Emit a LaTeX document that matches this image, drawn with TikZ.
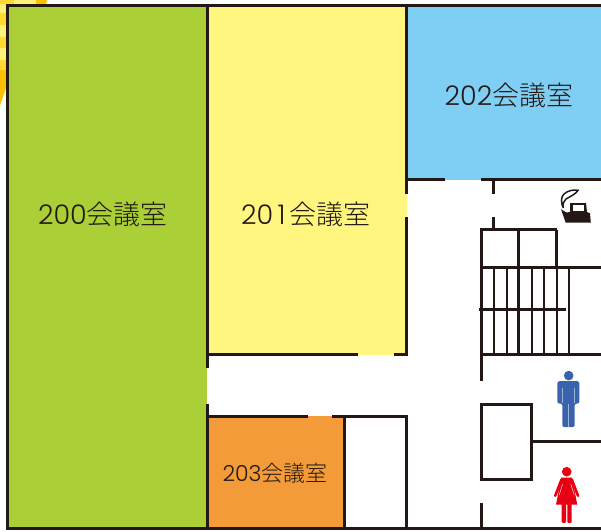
\documentclass[tikz,border=0pt]{standalone}
\usepackage{fontspec}
\setmainfont{Noto Sans CJK JP Light}
\newfontfamily\digitfont{Poppins Light}
\definecolor{wallc}{HTML}{231815}
\definecolor{greenc}{HTML}{AACF37}
\definecolor{yellowc}{HTML}{FFF67F}
\definecolor{bluec}{HTML}{7FCEF4}
\definecolor{orangec}{HTML}{F39B38}
\definecolor{manc}{HTML}{3A63AE}
\definecolor{manl}{HTML}{9DB3D8}
\definecolor{womanc}{HTML}{E60012}
\definecolor{paleY}{HTML}{FFF07A}
\definecolor{goldY}{HTML}{FFD92F}
\definecolor{ambY}{HTML}{FDC000}
\tikzset{
  wall/.style={draw=wallc,line width=3.5pt},
  stair/.style={draw=wallc,line width=2.4pt},
  roomlabel/.style={text=wallc,font=\fontsize{27}{27}\selectfont,inner sep=0pt},
  smalllabel/.style={text=wallc,font=\fontsize{22}{22}\selectfont,inner sep=0pt},
}
\newcommand{\roomtext}[1]{{\digitfont #1}会議室}
\newcommand{\wideone}{\makebox[0.62em]{1}}
\begin{document}
\begin{tikzpicture}[x=1pt,y=-1pt]
\useasboundingbox (0,0) rectangle (601,531);
\fill[white] (0,0) rectangle (601,531);
% sunburst remnant
\fill[paleY] (0,0) -- (36,0) -- (36,4) -- (6,4) -- (6,88) -- (0,105) -- cycle;
\fill[goldY] (0,13) rectangle (6,25);
\fill[goldY] (0,37) rectangle (6,48);
\fill[goldY] (0,60) rectangle (6,70);
\fill[ambY] (0,70) -- (6,70) -- (6,88) -- (0,105) -- cycle;
\fill[goldY] (0,0) rectangle (14,3.5);
\fill[ambY] (36,0) -- (47,0) -- (46,4) -- (36,4) -- cycle;
% rooms
\fill[greenc] (7.5,5.5) rectangle (207,528);
\fill[yellowc] (207,5.5) rectangle (406.5,354.5);
\fill[bluec] (406.5,5.5) rectangle (601,180);
\fill[orangec] (207.5,416) rectangle (344.5,528);
% corridor
\fill[white] (207,355.5) rectangle (406,415);
% outer walls
\coordinate (tl) at (7.5,5.5);
\coordinate (tr) at (601,5.5);
\coordinate (bl) at (7.5,528.5);
\coordinate (br) at (601,528.5);
\draw[wall,line cap=rect] (tr) -- (tl) -- (bl) -- (br);
% inner walls
\draw[wall] (207.5,5.5) -- (207.5,368);
\draw[wall] (207.5,404) -- (207.5,528.5);
\draw[wall] (206,354.3) -- (358,354.3);
\draw[wall] (394,354.3) -- (408,354.3);
\draw[wall] (406.5,5.5) -- (406.5,194);
\draw[wall] (406.5,217) -- (406.5,355.5);
\draw[wall] (406,179.5) -- (445,179.5);
\draw[wall] (481,179.5) -- (601,179.5);
\draw[wall] (493.5,179.5) -- (493.5,194);
\draw[wall] (493.5,217) -- (493.5,230);
\draw[wall] (206,416.3) -- (308,416.3);
\draw[wall] (332,416.3) -- (408,416.3);
\draw[wall] (344.7,416.3) -- (344.7,528.5);
\draw[wall] (406.5,415) -- (406.5,528.5);
% stair block
\draw[wall] (480,229.7) -- (557,229.7);
\draw[wall] (481.5,228.5) -- (481.5,380.5);
\draw[wall] (518.3,229.7) -- (518.3,267.3);
\draw[wall] (556.3,229.7) -- (556.3,267.3);
\draw[wall] (480,267.3) -- (601,267.3);
\draw[wall] (480,354.3) -- (601,354.3);
\foreach \sx in {494,506.7,518.3,531.7,544,556.7,569}
  \draw[stair] (\sx,267.3) -- (\sx,354.3);
\draw[wall] (479,309.7) -- (566,309.7);
% lower box
\draw[wall,line cap=rect] (481.5,404.3) rectangle (531.5,479.3);
\draw[wall] (531.5,441.3) -- (601,441.3);
\draw[wall] (481.5,503) -- (481.5,528.5);
% smoking icon
\fill[wallc] (561,209.3) -- (566.5,212.5) -- (570,212) -- (570,203) -- (586,203) -- (587,212) -- (590,213.3) -- (590.8,222.7) -- (565.7,222.7) -- cycle;
\fill[white] (572.8,205) rectangle (584.3,210.8);
\draw[wallc,line width=1.5pt] (563.3,208) .. controls (561,203) and (560.5,197) .. (564,194) .. controls (568,190.5) and (573,189.5) .. (578,190.3) .. controls (576,194) and (570,196.5) .. (566,199) .. controls (563.5,201) and (562.5,204) .. (563.3,208);
% man icon
\fill[manc] (568.7,375.6) circle (4.8);
\fill[manc,rounded corners=2pt] (557.3,403.5) -- (557.3,385) .. controls (557.3,382) and (559.5,381) .. (562,381) -- (575,381) .. controls (577.5,381) and (579.3,382) .. (579.3,385) -- (579.3,403.5) -- (574.7,403.5) -- (574.7,427) -- (562.3,427) -- (562.3,403.5) -- cycle;
\draw[manl,line width=0.6pt] (568.5,404) -- (568.5,427);
\draw[manl,line width=0.5pt] (562.3,388) -- (562.3,403);
\draw[manl,line width=0.5pt] (574.7,388) -- (574.7,403);
% woman icon
\fill[womanc] (566.7,471.7) circle (4.8);
\fill[womanc] (561.3,477.5) -- (572,477.5) -- (577.3,504.7) -- (556,504.7) -- cycle;
\draw[womanc,line width=2.6pt,line cap=round] (561.5,479.5) -- (555.2,495.8);
\draw[womanc,line width=2.6pt,line cap=round] (571.8,479.5) -- (578,495.8);
\draw[white,line width=0.4pt] (562.6,484) -- (559.2,495);
\draw[white,line width=0.4pt] (570.8,484) -- (574.2,495);
\fill[womanc,rounded corners=1pt] (561.7,503) rectangle (566,522.8);
\fill[womanc,rounded corners=1pt] (567.3,503) rectangle (571.7,522.8);
% labels
\node[roomlabel] (r200) at (103,214) {\roomtext{200}};
\node[roomlabel] (r201) at (306,214) {\roomtext{20\wideone}};
\node[roomlabel] (r202) at (509,95) {\roomtext{202}};
\node[smalllabel] (r203) at (275,473) {\roomtext{203}};
\end{tikzpicture}
\end{document}
